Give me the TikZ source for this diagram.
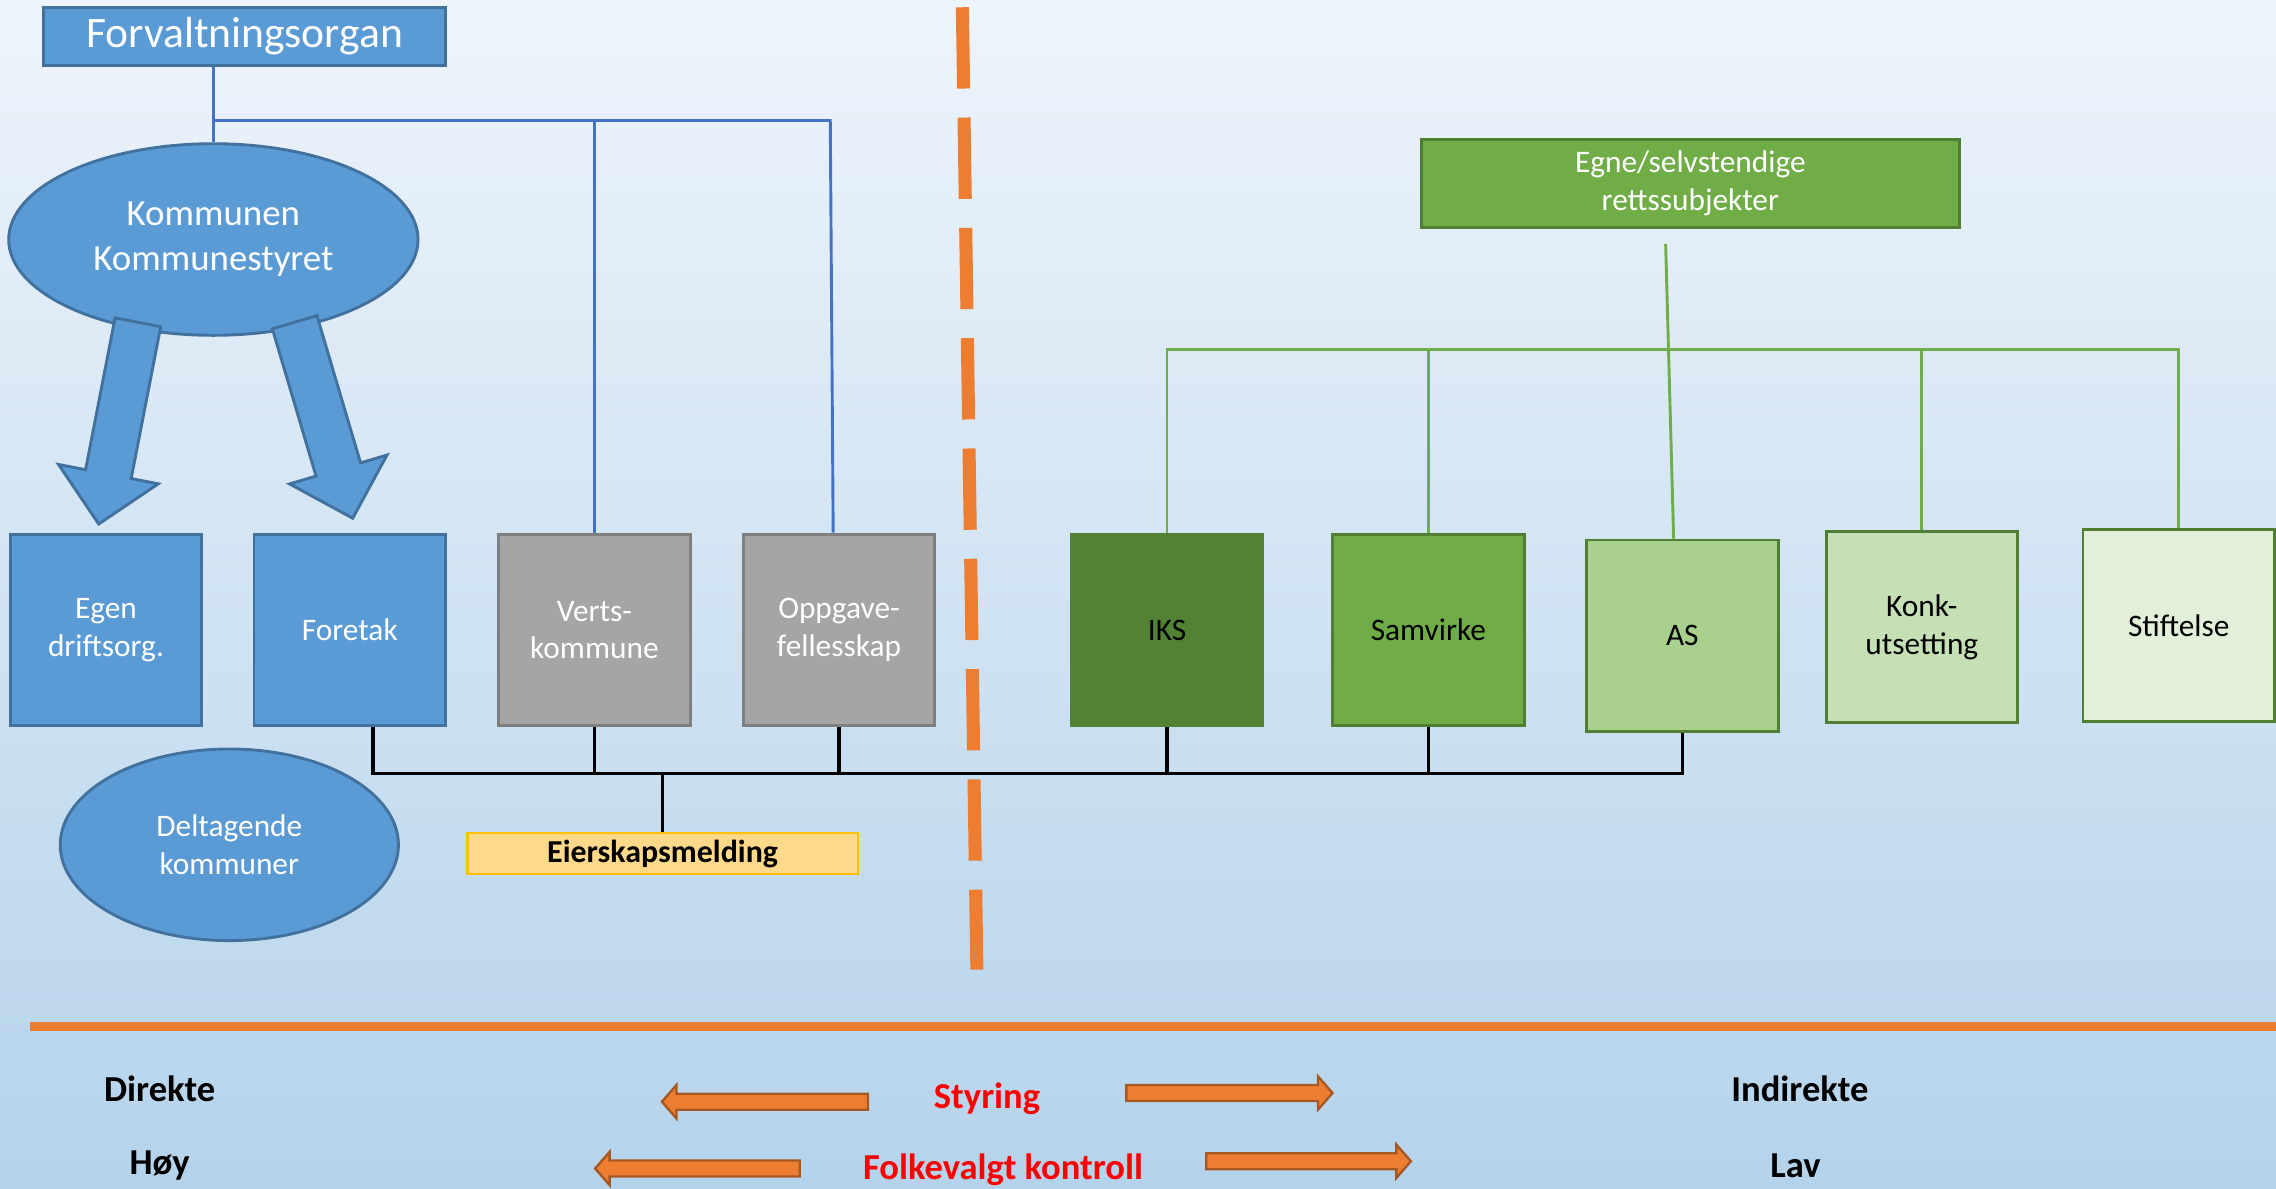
\documentclass[tikz,border=0pt]{standalone}
\usepackage{fontspec}
\setmainfont{Carlito}
\usetikzlibrary{shapes.geometric}
\usetikzlibrary{calc}

\definecolor{blaa}{HTML}{5B9BD5}
\definecolor{blaakant}{HTML}{41719C}
\definecolor{graa}{HTML}{A5A5A5}
\definecolor{graakant}{HTML}{7F7F7F}
\definecolor{gronnA}{HTML}{548235}
\definecolor{gronnB}{HTML}{70AD47}
\definecolor{gronnC}{HTML}{A9D18E}
\definecolor{gronnD}{HTML}{C5E0B4}
\definecolor{gronnE}{HTML}{E2F0D9}
\definecolor{gronnkant}{HTML}{507E32}
\definecolor{oransje}{HTML}{ED7D31}
\definecolor{linjeblaa}{HTML}{4472C4}
\definecolor{gul}{HTML}{FFD98A}
\definecolor{gulkant}{HTML}{FFC000}
\definecolor{bunnfarge}{HTML}{B4D3EB}
\definecolor{toppfarge}{HTML}{EEF4FB}

% blokkpil: stil, fra, til, halv skaftbredde, halv hodebredde, hodelengde
\newcommand{\blokkpil}[6]{%
  \path ($(#3)!#6!(#2)$) coordinate (pilbase);
  \filldraw[#1] ($(#2)!#4!90:(#3)$) -- ($(pilbase)!#4!-90:(#2)$)
    -- ($(pilbase)!#5!-90:(#2)$) -- (#3) -- ($(pilbase)!#5!90:(#2)$)
    -- ($(pilbase)!#4!90:(#2)$) -- ($(#2)!#4!-90:(#3)$) -- cycle;
}

\begin{document}
\begin{tikzpicture}[x=0.5pt, y=-0.5pt,
    boks/.style={rectangle, draw, line width=1pt, minimum width=66pt, minimum height=66pt,
      align=center, font=\fontsize{10.8}{13}\selectfont},
    blaboks/.style={boks, fill=blaa, draw=blaakant, text=white},
    graboks/.style={boks, fill=graa, draw=graakant, text=white},
    ellips/.style={ellipse, fill=blaa, draw=blaakant, line width=1pt, text=white, align=center},
    tekst/.style={font=\fontsize{12.6}{15}\selectfont\bfseries},
    rodtekst/.style={tekst, text=red}]
    \useasboundingbox (0,0) rectangle (1568,819);
    \shade[top color=toppfarge, bottom color=bunnfarge] (0,0) rectangle (1568,819);

    % venstre side
    \node (forv) [rectangle, fill=blaa, draw=blaakant, line width=1pt, minimum width=138.5pt,
      minimum height=20pt, text=white, font=\fontsize{15}{18}\selectfont] at (168.5,25) {Forvaltningsorgan};
    \node (kommunen) [ellips, minimum width=141pt, minimum height=66pt,
      font=\fontsize{12.7}{15.5}\selectfont] at (147,165) {Kommunen\\Kommunestyret};
    \node (egen) [blaboks] at (73,434) {Egen\\driftsorg.};
    \node (foretak) [blaboks] at (241,434) {Foretak};
    \node (verts) [graboks] at (409.5,434) {Verts-\\kommune};
    \node (oppgave) [graboks] at (578,434) {Oppgave-\\fellesskap};
    \node (deltagende) [ellips, minimum width=116.5pt, minimum height=66pt,
      font=\fontsize{10.8}{13}\selectfont] at (158,582) {Deltagende\\kommuner};
    \node (eierskap) [rectangle, fill=gul, draw=gulkant, line width=0.8pt, minimum width=134.5pt,
      minimum height=14pt, inner sep=0pt, font=\fontsize{11}{13}\selectfont\bfseries] at (456.5,588) {Eierskapsmelding};

    % hoyre side
    \node (egne) [rectangle, fill=gronnB, draw=gronnkant, line width=1pt, minimum width=185.5pt,
      minimum height=30.5pt, align=center, text=white, font=\fontsize{10.8}{13}\selectfont]
      at (1164.5,126.5) {Egne/selvstendige\\rettssubjekter};
    \node (iks) [boks, fill=gronnA, draw=gronnA] at (804,434) {IKS};
    \node (samvirke) [boks, fill=gronnB, draw=gronnkant] at (984,434) {Samvirke};
    \node (as) [boks, fill=gronnC, draw=gronnkant] at (1159,438) {AS};
    \node (konk) [boks, fill=gronnD, draw=gronnkant] at (1324,432) {Konk-\\utsetting};
    \node (stiftelse) [boks, fill=gronnE, draw=gronnkant] at (1501,431) {Stiftelse};

    % blaa linjer
    \coordinate (blakryss) at (147,83);
    \draw[linjeblaa, line width=1pt] (forv.south -| kommunen.north) -- (kommunen.north);
    \draw[linjeblaa, line width=1pt] (blakryss) -- ([xshift=-3pt]oppgave.north |- blakryss)
      -- ([xshift=-2pt]oppgave.north);
    \draw[linjeblaa, line width=1pt] (verts.north |- blakryss) -- (verts.north);

    % blokkpiler fra kommunen
    \coordinate (pilA) at (95,222);
    \coordinate (pilB) at (68,361);
    \coordinate (pilC) at (203,222);
    \coordinate (pilD) at (243,357);
    \blokkpil{fill=blaa, draw=blaakant, line width=1pt}{pilA}{pilB}{8pt}{17.5pt}{17.5pt}
    \blokkpil{fill=blaa, draw=blaakant, line width=1pt}{pilC}{pilD}{8pt}{17.5pt}{17.5pt}

    % gronne linjer
    \coordinate (gronnkryss) at (803,241);
    \draw[gronnB, line width=1pt] ([xshift=-8.5pt, yshift=-5pt]egne.south) -- ([xshift=-3pt]as.north);
    \draw[gronnB, line width=1pt] (iks.north) -- (iks.north |- gronnkryss)
      -- (stiftelse.north |- gronnkryss) -- (stiftelse.north);
    \draw[gronnB, line width=1pt] (samvirke.north |- gronnkryss) -- (samvirke.north);
    \draw[gronnB, line width=1pt] (konk.north |- gronnkryss) -- (konk.north);

    % eierskap
    \coordinate (buss) at (257,533);
    \draw[line width=1.2pt] ([xshift=8pt]foretak.south) -- (buss) -- (as.south |- buss) -- (as.south);
    \draw[line width=1.2pt] (verts.south) -- (verts.south |- buss);
    \draw[line width=1.2pt] (oppgave.south) -- (oppgave.south |- buss);
    \draw[line width=1.2pt] (iks.south) -- (iks.south |- buss);
    \draw[line width=1.2pt] (samvirke.south) -- (samvirke.south |- buss);
    \draw[line width=1.2pt] (eierskap.north) -- (eierskap.north |- buss);

    % skillelinjer
    \coordinate (skilleA) at (663,5);
    \coordinate (skilleB) at (673,668);
    \draw[oransje, line width=4.5pt, dash pattern=on 28pt off 10pt] (skilleA) -- (skilleB);
    \coordinate (linjeA) at (21,707);
    \coordinate (linjeB) at (1568,707);
    \draw[oransje, line width=3pt] (linjeA) -- (linjeB);

    % nederst
    \node (direkte) [tekst] at (110,750) {Direkte};
    \node (indirekte) [tekst] at (1240,750) {Indirekte};
    \node (hoy) [tekst] at (110,803) {Høy};
    \node (lav) [tekst] at (1237,803) {Lav};
    \node (styring) [rodtekst] at (680,757) {Styring};
    \node (folkevalgt) [rodtekst] at (691,806) {Folkevalgt kontroll};

    \coordinate (sA) at (598,759);
    \coordinate (sB) at (456,759);
    \coordinate (sC) at (776,753);
    \coordinate (sD) at (918,753);
    \coordinate (fA) at (551,805);
    \coordinate (fB) at (410,805);
    \coordinate (fC) at (831,800);
    \coordinate (fD) at (972,800);
    \blokkpil{fill=oransje, draw=oransje!70!black, line width=0.8pt}{sA}{sB}{2.75pt}{5.75pt}{5pt}
    \blokkpil{fill=oransje, draw=oransje!70!black, line width=0.8pt}{sC}{sD}{2.75pt}{5.75pt}{5pt}
    \blokkpil{fill=oransje, draw=oransje!70!black, line width=0.8pt}{fA}{fB}{2.75pt}{5.75pt}{5pt}
    \blokkpil{fill=oransje, draw=oransje!70!black, line width=0.8pt}{fC}{fD}{2.75pt}{5.75pt}{5pt}
\end{tikzpicture}
\end{document}
